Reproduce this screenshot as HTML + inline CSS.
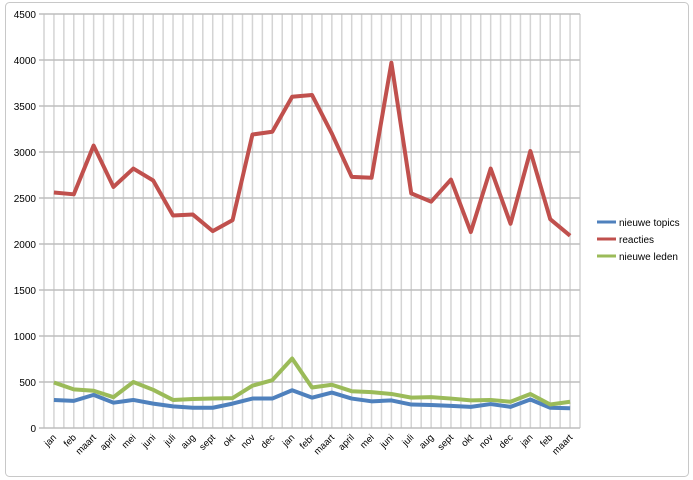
<!DOCTYPE html>
<html><head><meta charset="utf-8"><style>
body{margin:0;background:#fff;}
svg{display:block;font-family:"Liberation Sans",sans-serif;}
</style></head><body>
<svg id="chart" width="693" height="480" viewBox="0 0 693 480">
<rect x="5.5" y="2.5" width="683" height="474" rx="4" fill="#fff" stroke="#c8c8c8"/>
<g id="grid"></g><g id="axes"></g><g id="series"></g>
<g id="legend">
<line x1="597" y1="222" x2="616" y2="222" stroke="#4f81bd" stroke-width="3"/>
<text x="619" y="226" font-size="10">nieuwe topics</text>
<line x1="597" y1="239" x2="616" y2="239" stroke="#c0504d" stroke-width="3"/>
<text x="619" y="243" font-size="10">reacties</text>
<line x1="597" y1="256" x2="616" y2="256" stroke="#9bbb59" stroke-width="3"/>
<text x="619" y="260" font-size="10">nieuwe leden</text>
</g>
</svg>
<script>
const categories=["jan","feb","maart","april","mei","juni","juli","aug","sept","okt","nov","dec","jan","febr","maart","april","mei","juni","juli","aug","sept","okt","nov","dec","jan","feb","maart"];
const reacties=[2560,2540,3070,2620,2820,2690,2310,2320,2140,2260,3190,3220,3600,3620,3200,2730,2720,3970,2550,2460,2700,2130,2820,2220,3010,2270,2090];
const topics=[305,295,360,275,305,265,235,220,220,265,320,320,410,330,385,320,290,300,255,250,240,230,260,230,310,220,215];
const leden=[495,420,405,335,500,415,305,315,320,325,460,520,755,440,470,400,390,370,330,335,320,300,305,285,370,255,285];
const yTicks=[0,500,1000,1500,2000,2500,3000,3500,4000,4500];
const L=44,R=580,T=14,B=428,yMax=4500;
const step=(R-L)/categories.length;
const x=i=>L+step*(i+0.5);
const y=v=>B-(v/yMax)*(B-T);
const NS="http://www.w3.org/2000/svg";
function mk(tag,attrs,parent){const e=document.createElementNS(NS,tag);for(const k in attrs)e.setAttribute(k,attrs[k]);document.getElementById(parent).appendChild(e);return e;}
for(let i=0;i<=categories.length*2;i++){
 const gx=L+i*step/2;
 const l=mk("line",{x1:gx,x2:gx,y1:T,y2:B,stroke:"#d4d4d4","stroke-width":1.5},"grid");
 
 
}
yTicks.forEach(v=>{
 const l=mk("line",{x1:L-5,x2:R,y1:y(v),y2:y(v),stroke:"#bdbdbd","stroke-width":1.5},"grid");
 
 
 const t=mk("text",{x:L-8,y:y(v)+4,"text-anchor":"end","font-size":10,fill:"#000"},"axes");
 t.textContent=v;
 
 
});
categories.forEach((c,i)=>{
 const t=mk("text",{x:x(i)+3,y:B+10,"text-anchor":"end","font-size":9.5,transform:`rotate(-45 ${x(i)+3} ${B+10})`},"axes");
 t.textContent=c;
 
 
});
[[topics,"#4f81bd","series-nieuwe-topics"],[leden,"#9bbb59","series-nieuwe-leden"],[reacties,"#c0504d","series-reacties"]].forEach(([d,c,n])=>{
 const p=mk("polyline",{points:d.map((v,i)=>x(i)+","+y(v)).join(" "),fill:"none",stroke:c,"stroke-width":4,"stroke-linejoin":"round"},"series");
 
 
});
</script>
</body></html>
